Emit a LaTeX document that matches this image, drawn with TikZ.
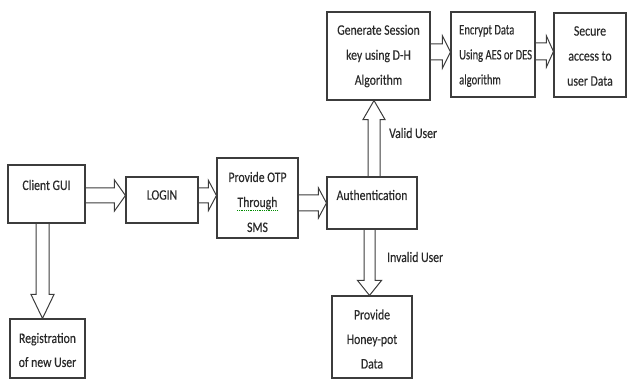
\documentclass[tikz,border=0pt]{standalone}
\usepackage{fontspec}
\setmainfont{Carlito}
\newfontfamily\tf{Carlito}[FakeBold=0.3,FakeStretch=0.81]
\newfontfamily\tfc{Carlito}[FakeBold=0.3,FakeStretch=0.73]
\usetikzlibrary{calc}
\definecolor{ln}{HTML}{3C3C3C}
\definecolor{tx}{HTML}{2A2A2A}
\newcommand\hblk[6]{% from, to, y centre, shaft half, head half, head length
  \draw[blk] (#1.east |- 0,#3-#4) -- ($(#2.west |- 0,#3-#4)+(-#6,0)$)
    -- ($(#2.west |- 0,#3-#5)+(-#6,0)$) -- (#2.west |- 0,#3)
    -- ($(#2.west |- 0,#3+#5)+(-#6,0)$) -- ($(#2.west |- 0,#3+#4)+(-#6,0)$)
    -- (#1.east |- 0,#3+#4);}
\newcommand\vblk[6]{% start anchor, end anchor, x centre, shaft half, head half, signed head length
  \draw[blk] (#1 -| #3-#4,0) -- ($(#2 -| #3-#4,0)+(0,{-1*(#6)})$)
    -- ($(#2 -| #3-#5,0)+(0,{-1*(#6)})$) -- (#2 -| #3,0)
    -- ($(#2 -| #3+#5,0)+(0,{-1*(#6)})$) -- ($(#2 -| #3+#4,0)+(0,{-1*(#6)})$)
    -- (#1 -| #3+#4,0);}
\begin{document}
\begin{tikzpicture}[x=1pt,y=-1pt,
  box/.style={draw=ln,line width=1.1pt,inner sep=0pt},
  txt/.style={font=\tf\fontsize{14.5}{25}\selectfont,text=tx,align=center,inner sep=0pt},
  lbl/.style={font=\tf\fontsize{14.5}{16}\selectfont,text=tx,inner sep=0pt,anchor=west},
  blk/.style={draw=ln,line width=1pt,line join=miter}]
\useasboundingbox (0,0) rectangle (627,379);
% boxes
\node[box,minimum width=77pt,minimum height=58pt] (client) at (46.5,194) {};
\node[box,minimum width=72pt,minimum height=46pt] (login) at (162,200) {};
\node[box,minimum width=81pt,minimum height=80pt] (otp) at (257.5,198) {};
\node[box,minimum width=90pt,minimum height=52pt] (auth) at (372,203) {};
\node[box,minimum width=103pt,minimum height=88pt] (gen) at (378.5,56) {};
\node[box,minimum width=84pt,minimum height=85pt] (enc) at (493,54.5) {};
\node[box,minimum width=72pt,minimum height=84pt] (sec) at (590,55) {};
\node[box,minimum width=75pt,minimum height=59pt] (reg) at (47.5,348.5) {};
\node[box,minimum width=80pt,minimum height=82pt] (honey) at (372,337) {};
% texts
\node[txt] (client-t) at (46.5,185) {Client GUI};
\node[txt] (login-t) at (162,195) {LOGIN};
\node[txt] (otp-t) at (257.5,202) {Provide OTP\\Through\\SMS};
\node[txt] (auth-t) at (372,195) {Authentication};
\node[txt] (gen-t) at (378.5,56) {Generate Session\\key using D-H\\Algorithm};
\node[txt,font=\tfc\fontsize{14.5}{25}\selectfont,align=left,anchor=west] (enc-t) at (459,56) {Encrypt Data\\Using AES or DES\\algorithm};
\node[txt] (sec-t) at (590,56) {Secure\\access to\\user Data};
\node[txt,font=\tf\fontsize{14.5}{24}\selectfont] (reg-t) at (47.5,350) {Registration\\of new User};
\node[txt,font=\tf\fontsize{14.5}{24.5}\selectfont] (honey-t) at (372,339) {Provide\\Honey-pot\\Data};
\draw[green!55!black,line width=0.6pt,dash pattern=on 1pt off 0.8pt] (237,210) -- (278,210);
% block arrows
\hblk{client}{login}{195.5}{7.5}{15.5}{11}
\hblk{login}{otp}{195.5}{7.5}{15}{8}
\hblk{otp}{auth}{203}{8}{15}{8}
\hblk{gen}{enc}{52}{8}{16}{8}
\hblk{enc}{sec}{51.5}{8.5}{15.5}{7}
\vblk{client.south}{reg.north}{42.5}{6.5}{11.5}{24}
\vblk{auth.north}{gen.south}{374}{6}{11}{-19}
\vblk{auth.south}{honey.north}{369.5}{5.5}{12}{15}
% labels
\node[lbl] (valid) at (389,133) {Valid User};
\node[lbl] (invalid) at (387,257) {Invalid User};
\end{tikzpicture}
\end{document}
